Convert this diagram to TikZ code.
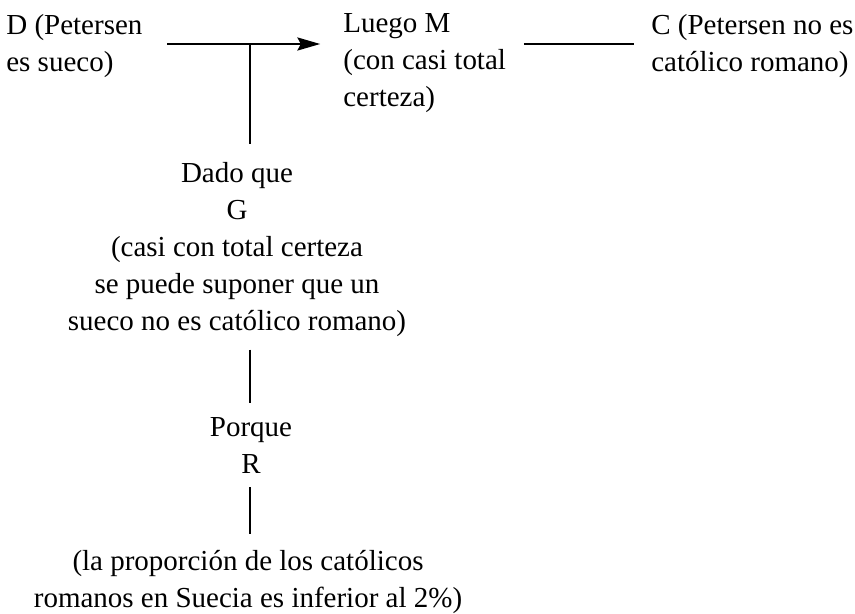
\documentclass[tikz,border=0pt]{standalone}
\usepackage{fontspec}
\setmainfont{Liberation Serif}
\usetikzlibrary{arrows.meta}

\tikzset{
  txt/.style={inner sep=0pt, align=left, font=\fontsize{16.5}{21}\selectfont},
  ctxt/.style={inner sep=0pt, align=center, font=\fontsize{16.5}{21}\selectfont},
  link/.style={line width=0.9pt},
}

\begin{document}
\begin{tikzpicture}[x=0.02cm, y=-0.02cm]
\useasboundingbox (0, 0) rectangle (855, 613);

% base = last line of each block
\node [txt, anchor=base west] (D) at (6, 71) {D (Petersen\\es sueco)};
\node [txt, anchor=base west] (M) at (343, 106) {Luego M\\(con casi total\\certeza)};
\node [txt, anchor=base west] (C) at (651, 71) {C (Petersen no es\\católico romano)};

\node [ctxt, anchor=base] (G) at (237, 330) {Dado que\\G\\(casi con total certeza\\se puede suponer que un\\sueco no es católico romano)};
\node [ctxt, anchor=base] (R) at (251, 473) {Porque\\R};
\node [ctxt, anchor=base] (W) at (248, 607) {(la proporción de los católicos\\romanos en Suecia es inferior al 2\%)};

\coordinate (j) at (250, 44);

\draw [link, -{Stealth[length=13pt, width=7.5pt, inset=2pt]}, shorten <=14pt, shorten >=13pt] (D.east |- j) -- (M.west |- j);
\draw [link, shorten <=10pt, shorten >=9.5pt] (M.east |- j) -- (C.west |- j);
\draw [link, shorten >=10pt] (j) -- (j |- G.north);
\draw [link, shorten <=7.5pt, shorten >=8pt] (G.south -| j) -- (R.north -| j);
\draw [link, shorten <=8pt, shorten >=9pt] (R.south -| j) -- (W.north -| j);
\end{tikzpicture}
\end{document}
